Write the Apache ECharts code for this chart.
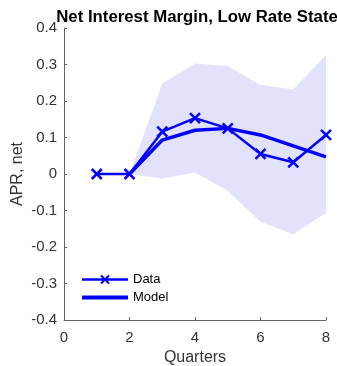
<!DOCTYPE html>
<html>
<head>
<meta charset="utf-8">
<script src="https://cdn.jsdelivr.net/npm/echarts@6/dist/echarts.min.js"></script>
<style>
  html, body { margin: 0; padding: 0; background: #fff; }
  #chart { width: 337px; height: 366px; }
</style>
</head>
<body>
<div id="chart"></div>
<script>
// values
var quarters = [1, 2, 3, 4, 5, 6, 7, 8];
var dataVals = [0, 0, 0.116, 0.153, 0.125, 0.055, 0.032, 0.107];
var modelQuarters = [2, 3, 4, 5, 6, 7, 8];
var modelVals = [0, 0.093, 0.12, 0.125, 0.107, 0.077, 0.047];
var bandLow = [0, -0.012, 0.004, -0.046, -0.131, -0.165, -0.106];
var bandHigh = [0, 0.247, 0.303, 0.296, 0.244, 0.232, 0.326];

var blue = '#0000ff';
var xMark = 'path://M0,0L10,10M10,0L0,10';

function pairs(xs, ys) {
    return xs.map(function (x, i) { return [x, ys[i]]; });
}

// shaded band: one polygon, upper edge forwards then lower edge back
function renderBand(params, api) {
    if (params.dataIndex !== 0) return;
    var pts = [];
    modelQuarters.forEach(function (q, i) { pts.push(api.coord([q, bandHigh[i]])); });
    for (var i = modelQuarters.length - 1; i >= 0; i--) {
        pts.push(api.coord([modelQuarters[i], bandLow[i]]));
    }
    return {
        type: 'polygon',
        shape: { points: pts },
        style: { fill: '#e2e2fc' },
        silent: true
    };
}

var option = {
    animation: false,
    title: {
        text: 'Net Interest Margin, Low Rate State',
        left: 192, top: 4, textAlign: 'center',
        textStyle: { fontFamily: 'Liberation Sans', fontSize: 16.8, fontWeight: 'bold', color: '#000' }
    },
    legend: {
        left: 80, top: 273, orient: 'vertical', padding: 0,
        itemWidth: 46, itemHeight: 10, itemGap: 5,
        data: [
            { name: 'Data', lineStyle: { width: 2.5 } },
            { name: 'Model', itemStyle: { opacity: 0 }, lineStyle: { width: 4 } }
        ],
        textStyle: { fontFamily: 'Liberation Sans', fontSize: 13, color: '#000' }
    },
    grid: { left: 64, right: 11, top: 28, bottom: 46, outerBoundsMode: 'none' },
    xAxis: {
        type: 'value', min: 0, max: 8, interval: 2,
        name: 'Quarters', nameLocation: 'middle', nameGap: 30, nameMoveOverlap: false,
        nameTextStyle: { fontFamily: 'Liberation Sans', fontSize: 16, color: '#333' },
        axisLine: { onZero: false, lineStyle: { color: '#666' } },
        axisTick: { inside: true, length: 3, lineStyle: { color: '#666' } },
        axisLabel: { fontFamily: 'Liberation Sans', fontSize: 15, color: '#333', margin: 10 },
        splitLine: { show: false }
    },
    yAxis: {
        type: 'value', min: -0.4, max: 0.4, interval: 0.1,
        name: 'APR, net', nameLocation: 'middle', nameGap: 38, nameMoveOverlap: false,
        nameTextStyle: { fontFamily: 'Liberation Sans', fontSize: 16, color: '#333' },
        axisLine: { show: true, onZero: false, lineStyle: { color: '#666' } },
        axisTick: { show: true, inside: true, length: 3, lineStyle: { color: '#666' } },
        axisLabel: {
            fontFamily: 'Liberation Sans', fontSize: 15, color: '#333', margin: 7,
            formatter: function (v) { return Math.abs(v) < 1e-9 ? '0' : (+v.toFixed(1)).toString(); }
        },
        splitLine: { show: false }
    },
    series: [
        {
            name: 'band', type: 'custom', renderItem: renderBand,
            data: pairs(modelQuarters, bandHigh), silent: true, z: 1
        },
        {
            name: 'Data', type: 'line', data: pairs(quarters, dataVals), z: 3,
            symbol: xMark, symbolSize: 10, showAllSymbol: true,
            lineStyle: { color: blue, width: 2.5 },
            itemStyle: { color: blue, borderColor: blue, borderWidth: 2.5 }
        },
        {
            name: 'Model', type: 'line', data: pairs(modelQuarters, modelVals), z: 2,
            symbol: 'none',
            lineStyle: { color: blue, width: 3.5 },
            itemStyle: { color: blue }
        }
    ]
};

var chart = echarts.init(document.getElementById('chart'));
chart.setOption(option);
</script>
</body>
</html>
